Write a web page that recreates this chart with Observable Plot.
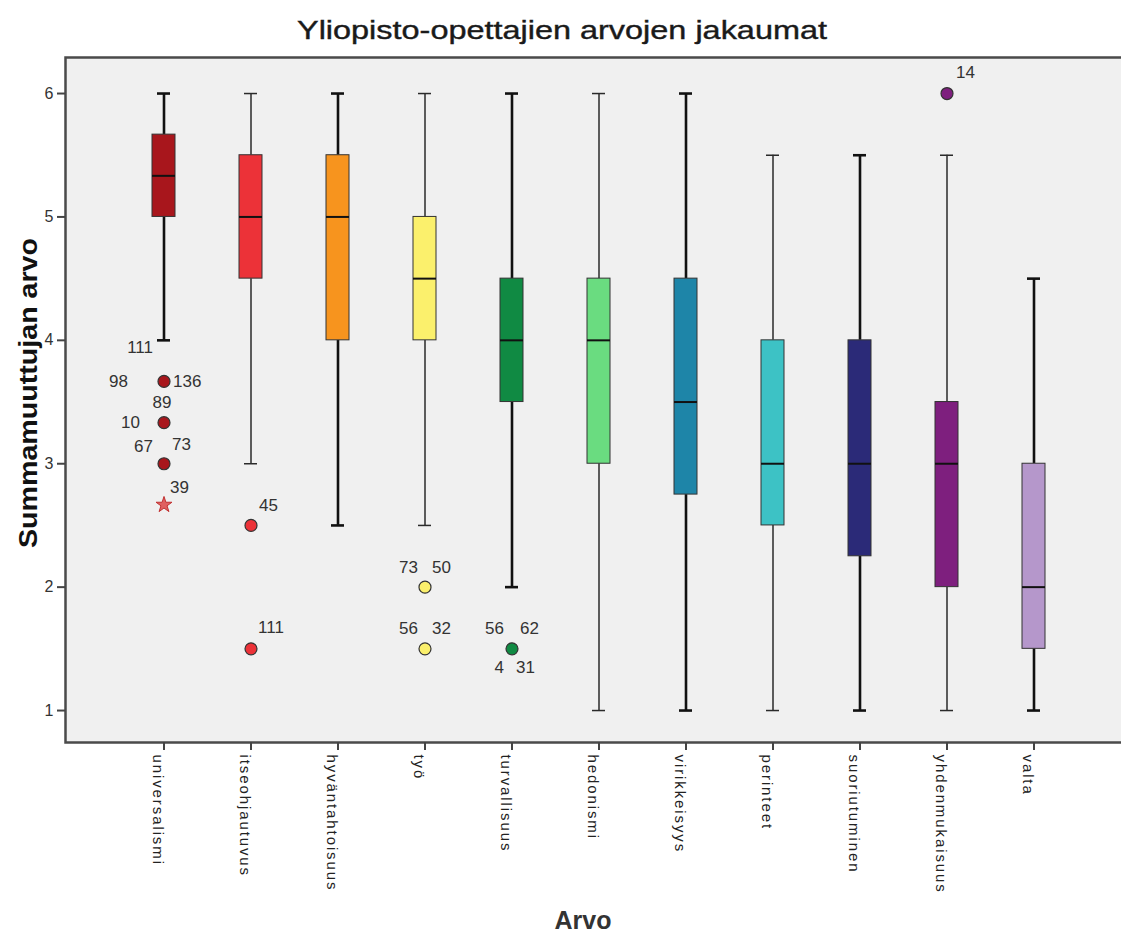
<!DOCTYPE html>
<html><head><meta charset="utf-8">
<script src="https://cdn.jsdelivr.net/npm/d3@7"></script>
<script src="https://cdn.jsdelivr.net/npm/@observablehq/plot@0.6"></script>
<style>
body{margin:0;background:#fff;overflow:hidden;font-family:"Liberation Sans",Arial,sans-serif}
g[aria-label="x-axis tick label"] text{letter-spacing:1.9px}
</style>
</head><body><div id="chart"></div>
<script>
const categories = ["universalismi","itseohjautuvus","hyväntahtoisuus","työ","turvallisuus","hedonismi","virikkeisyys","perinteet","suoriutuminen","yhdenmukaisuus","valta"];
const colors = ["#A8161C","#EC3238","#F7941E","#FBF06C","#108A43","#6ADC80","#1E85A8","#3DC2C5","#2B2A78","#7E1F7E","#B597CB"];
const whiskerLow  = [4, 3, 2.5, 2.5, 2, 1, 1, 1, 1, 1, 1];
const q1          = [5, 4.5, 4, 4, 3.5, 3, 2.75, 2.5, 2.25, 2, 1.5];
const medians     = [5.333, 5, 5, 4.5, 4, 4, 3.5, 3, 3, 3, 2];
const q3          = [5.667, 5.5, 5.5, 5, 4.5, 4.5, 4.5, 4, 4, 3.5, 3];
const whiskerHigh = [6, 6, 6, 6, 6, 6, 6, 5.5, 5.5, 5.5, 4.5];
const yTicks = [1, 2, 3, 4, 5, 6];

const outlierCategory = ["universalismi","universalismi","universalismi","itseohjautuvus","itseohjautuvus","työ","työ","turvallisuus","yhdenmukaisuus"];
const outlierValue    = [3.667, 3.333, 3, 2.5, 1.5, 2, 1.5, 1.5, 6];
const extremeCategory = ["universalismi"];
const extremeValue    = [2.667];

const labelCategory = ["universalismi","universalismi","universalismi","universalismi","universalismi","universalismi","universalismi","universalismi","itseohjautuvus","itseohjautuvus","työ","työ","työ","työ","turvallisuus","turvallisuus","turvallisuus","turvallisuus","yhdenmukaisuus"];
const labelValue    = [4, 3.667, 3.667, 3.667, 3.333, 3, 3, 2.667, 2.5, 1.5, 2, 2, 1.5, 1.5, 1.5, 1.5, 1.5, 1.5, 6];
const labelText     = ["111","98","136","89","10","67","73","39","45","111","73","50","56","32","56","62","4","31","14"];

// label placement (layout only): anchor, dx, dy
const labelPlacement = [
  ["end",-11,7],["end",-36,0],["start",9,0],["middle",-2,21],["end",-24,0],["end",-11,-17],["start",8,-19],["start",6,-17],
  ["start",8,-20],["start",7,-21],
  ["end",-7,-20],["start",7,-20],["end",-7,-20],["start",7,-20],
  ["end",-8,-20],["start",8,-20],["end",-8,19],["start",4,19],
  ["start",9,-21]
];

const boxes = categories.map((c, i) => ({cat: c, color: colors[i], lo: whiskerLow[i], q1: q1[i], med: medians[i], q3: q3[i], hi: whiskerHigh[i], thick: i % 2 === 0}));
const outliers = outlierCategory.map((c, i) => ({cat: c, v: outlierValue[i], color: colors[categories.indexOf(c)]}));
const extremes = extremeCategory.map((c, i) => ({cat: c, v: extremeValue[i]}));
const labels = labelCategory.map((c, i) => ({cat: c, v: labelValue[i], t: labelText[i], anchor: labelPlacement[i][0], dx: labelPlacement[i][1], dy: labelPlacement[i][2]}));

const labelMarks = labels.map(d => Plot.text([d], {x: "cat", y: "v", text: "t", dx: d.dx, dy: d.dy, textAnchor: d.anchor, fontSize: 17, fill: "#333"}));

const thickBoxes = boxes.filter(d => d.thick), thinBoxes = boxes.filter(d => !d.thick);
const whisk = (data, w, col) => [
  Plot.ruleX(data, {x: "cat", y1: "lo", y2: "q1", stroke: col, strokeWidth: w}),
  Plot.ruleX(data, {x: "cat", y1: "q3", y2: "hi", stroke: col, strokeWidth: w}),
  Plot.tickY(data, {x: "cat", y: "lo", stroke: col, strokeWidth: w, insetLeft: 5, insetRight: 5}),
  Plot.tickY(data, {x: "cat", y: "hi", stroke: col, strokeWidth: w, insetLeft: 5, insetRight: 5})
];

const chart = Plot.plot({
  width: 1121, height: 935,
  marginTop: 57, marginBottom: 193, marginLeft: 65, marginRight: 0,
  style: {fontFamily: '"Liberation Sans", Arial, sans-serif', background: "#fff", overflow: "hidden"},
  x: {type: "band", domain: categories, range: [151.5, 1045.5], paddingInner: 0.736, paddingOuter: 0, label: null},
  y: {domain: [0.741, 6.292], label: null},
  marks: [
    Plot.frame({fill: "#F0F0F0", stroke: "#4a4a4a", strokeWidth: 2.5, insetRight: -4}),
    ...whisk(thickBoxes, 2.6, "#111"),
    ...whisk(thinBoxes, 1.5, "#2a2a2a"),
    Plot.barY(boxes, {x: "cat", y1: "q1", y2: "q3", fill: "color", stroke: "#333", strokeWidth: 1}),
    Plot.tickY(boxes, {x: "cat", y: "med", stroke: "#111", strokeWidth: 2}),
    Plot.dot(outliers, {x: "cat", y: "v", r: 6, fill: "color", stroke: "#333", strokeWidth: 1.2}),
    Plot.dot(extremes, {x: "cat", y: "v", r: 5, symbol: "star", fill: "#e06060", stroke: "#c03030", strokeWidth: 1}),
    ...labelMarks,
    Plot.axisY({ticks: yTicks, tickSize: 8, tickPadding: 4, fontSize: 16, stroke: "#444", strokeWidth: 2, color: "#333", label: null, tickFormat: d3.format("d")}),
    Plot.axisX({tickRotate: 90, tickSize: 8, tickPadding: 4, textAnchor: "start", lineAnchor: "top", fontSize: 15, stroke: "#444", strokeWidth: 2, color: "#222", label: null})
  ]
});

const svg = d3.select(chart);
svg.append("text").attr("x", 562).attr("y", 30).attr("text-anchor", "middle").attr("dominant-baseline", "central")
  .attr("font-size", 26).attr("fill", "#1a1a1a").attr("stroke", "#1a1a1a").attr("stroke-width", 0.4).attr("textLength", 530).attr("lengthAdjust", "spacingAndGlyphs")
  .text("Yliopisto-opettajien arvojen jakaumat");
svg.append("text").attr("transform", "translate(28,393) rotate(-90)").attr("text-anchor", "middle").attr("dominant-baseline", "central")
  .attr("font-size", 25).attr("font-weight", "bold").attr("fill", "#111").attr("textLength", 310).attr("lengthAdjust", "spacingAndGlyphs")
  .text("Summamuuttujan arvo");
svg.append("text").attr("x", 583).attr("y", 920).attr("text-anchor", "middle").attr("dominant-baseline", "central")
  .attr("font-size", 25).attr("font-weight", "bold").attr("fill", "#333")
  .text("Arvo");
document.getElementById("chart").appendChild(chart);
</script>
</body></html>
